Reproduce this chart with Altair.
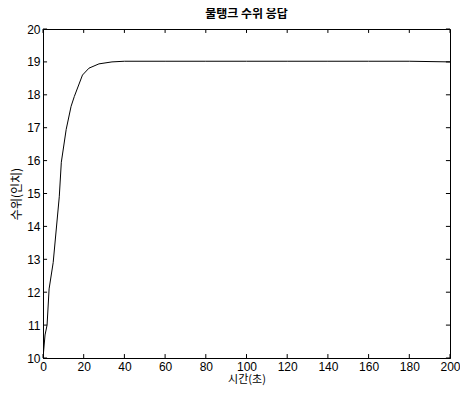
import altair as alt
import pandas as pd

# data
t_vals = [0, 1, 2, 3, 5, 8, 9, 11.4, 13.8, 15.4, 19.4, 22.6, 27.5, 33.9, 40, 60, 80, 100, 120, 140, 160, 180, 200]
h_vals = [10.0, 10.7, 11.0, 12.1, 12.9, 14.9, 15.95, 16.95, 17.65, 17.95, 18.6, 18.81, 18.94, 19.0, 19.02, 19.02, 19.02, 19.02, 19.02, 19.02, 19.02, 19.02, 19.0]
x_ticks = [0, 20, 40, 60, 80, 100, 120, 140, 160, 180, 200]
y_ticks = [10, 11, 12, 13, 14, 15, 16, 17, 18, 19, 20]

title = "물탱크 수위 응답"
x_title = "시간(초)"
y_title = "수위(인치)"

df = pd.DataFrame({"t": t_vals, "h": h_vals})
xt = pd.DataFrame({"v": x_ticks})
yt = pd.DataFrame({"v": y_ticks})

xs = alt.Scale(domain=[0, 200], nice=False)
ys = alt.Scale(domain=[10, 20], nice=False)

kfont = "Noto Sans CJK KR"
nfont = "Liberation Sans"

x_axis = alt.Axis(values=x_ticks, tickCount=len(x_ticks), title=x_title, grid=False, tickSize=0,
                  labelPadding=3, labelFont=nfont, labelFontSize=12,
                  labelColor="black", titleFont=kfont, titleFontSize=11,
                  titleFontWeight="normal", titleColor="black", titlePadding=1,
                  domainColor="black", labelFlush=False, labelOverlap=False)
y_axis = alt.Axis(values=y_ticks, tickCount=len(y_ticks), title=y_title, grid=False, tickSize=0,
                  labelPadding=3, labelFont=nfont, labelFontSize=12,
                  labelColor="black", titleFont=kfont, titleFontSize=12,
                  titleFontWeight="normal", titleColor="black", titlePadding=3,
                  domainColor="black", labelFlush=False, labelOverlap=False)

line = alt.Chart(df).mark_line(color="black", strokeWidth=1, clip=True).encode(
    x=alt.X("t:Q", scale=xs, axis=x_axis, title=x_title),
    y=alt.Y("h:Q", scale=ys, axis=y_axis, title=y_title),
)

tick_len_y = 0.12
tick_len_x = 2.0

xb = alt.Chart(xt).mark_rule(color="black", strokeWidth=1).encode(
    x=alt.X("v:Q", scale=xs, axis=x_axis, title=x_title), y=alt.datum(10), y2=alt.datum(10 + tick_len_y))
xtop = alt.Chart(xt).mark_rule(color="black", strokeWidth=1).encode(
    x=alt.X("v:Q", scale=xs, axis=x_axis, title=x_title), y=alt.datum(20), y2=alt.datum(20 - tick_len_y))
yl = alt.Chart(yt).mark_rule(color="black", strokeWidth=1).encode(
    y=alt.Y("v:Q", scale=ys, axis=y_axis, title=y_title), x=alt.datum(0), x2=alt.datum(tick_len_x))
yr = alt.Chart(yt).mark_rule(color="black", strokeWidth=1).encode(
    y=alt.Y("v:Q", scale=ys, axis=y_axis, title=y_title), x=alt.datum(200), x2=alt.datum(200 - tick_len_x))

chart = alt.layer(line, xb, xtop, yl, yr).properties(
    width=407, height=329,
    background="white",
    title=alt.TitleParams(title, font=kfont, fontSize=12, fontWeight="bold", color="black", offset=2),
    autosize=alt.AutoSizeParams(type="none"),
    padding={"left": 35, "top": 21, "right": 10, "bottom": 30},
).configure_view(stroke="black", strokeWidth=1)

chart.save("out.html", embed_options={"renderer": "svg", "actions": False})
